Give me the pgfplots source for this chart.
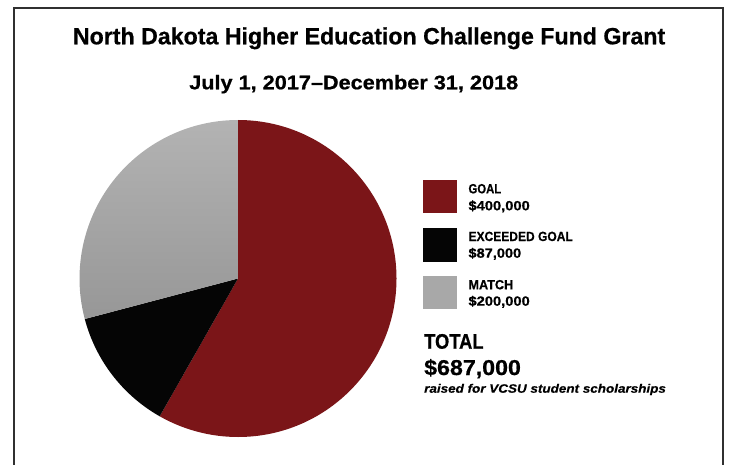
\documentclass[border=0pt]{standalone}
\usepackage{pgfplots}
\pgfplotsset{compat=1.18}
\usepackage{pgfplotstable}
\usepackage{graphicx}
\usepackage{fontspec}
\setmainfont{Liberation Sans}[
  BoldFeatures={FakeBold=0.7},
  BoldItalicFeatures={FakeBold=0.5}]

\definecolor{goalred}{HTML}{7B1518}
\definecolor{exceedblack}{HTML}{050505}
\definecolor{matchtop}{HTML}{B3B3B3}
\definecolor{matchbot}{HTML}{979797}
\definecolor{framec}{HTML}{303030}

% values in thousands of dollars
\pgfplotstableread{
label    value
Goal     400
Exceeded 87
Match    200
}\piedata

\newcommand{\txt}[4]{% x, y, width, height, text
  \node[anchor=base west, inner sep=0pt] at (axis cs:#1,#2) {#4};}

\begin{document}
\begin{tikzpicture}
  \pgfplotstablegetelem{0}{value}\of\piedata \let\vA\pgfplotsretval
  \pgfplotstablegetelem{1}{value}\of\piedata \let\vB\pgfplotsretval
  \pgfplotstablegetelem{2}{value}\of\piedata \let\vC\pgfplotsretval
  \pgfmathsetmacro{\tot}{\vA+\vB+\vC}
  \pgfmathsetmacro{\aO}{90}
  \pgfmathsetmacro{\aI}{\aO-360*(\vA/\tot)}
  \pgfmathsetmacro{\aII}{\aI-360*(\vB/\tot)}
  \pgfmathsetmacro{\aIII}{\aII-360*(\vC/\tot)}
  \def\cx{238}\def\cy{185.5}\def\rr{158.5}
  \begin{axis}[
    scale only axis,
    width=730pt, height=464pt,
    xmin=0, xmax=730, ymin=0, ymax=464,
    hide axis,
    clip=false,
  ]
    % frame
    \draw[line width=2.4pt, framec] (axis cs:14,-10) -- (axis cs:14,456)
      -- (axis cs:723,456) -- (axis cs:723,-10);

    % pie wedges
    \fill[goalred] (axis cs:\cx,\cy)
      -- (axis cs:{\cx+\rr*cos(\aO)},{\cy+\rr*sin(\aO)})
      arc[start angle=\aO, end angle=\aI, radius=\rr pt] -- cycle;
    \fill[exceedblack] (axis cs:\cx,\cy)
      -- (axis cs:{\cx+\rr*cos(\aI)},{\cy+\rr*sin(\aI)})
      arc[start angle=\aI, end angle=\aII, radius=\rr pt] -- cycle;
    \shade[top color=matchtop, bottom color=matchbot] (axis cs:\cx,\cy)
      -- (axis cs:{\cx+\rr*cos(\aII)},{\cy+\rr*sin(\aII)})
      arc[start angle=\aII, end angle=\aIII, radius=\rr pt] -- cycle;

    % titles
    \txt{72.7}{419.7}{}{\resizebox{592.3pt}{17pt}{\bfseries North Dakota Higher Education Challenge Fund Grant}}
    \txt{189}{374.7}{}{\resizebox{329pt}{14.3pt}{\bfseries July 1, 2017–December 31, 2018}}

    % legend
    \fill[goalred] (axis cs:423.3,250.7) rectangle (axis cs:456.7,284);
    \fill[exceedblack] (axis cs:423.3,202.3) rectangle (axis cs:456.7,235.7);
    \fill[matchtop!60!matchbot] (axis cs:423.3,154.7) rectangle (axis cs:456.7,188);

    \txt{468.3}{270.7}{}{\resizebox{32.7pt}{9.3pt}{\bfseries GOAL}}
    \txt{468.3}{253.7}{}{\resizebox{61.3pt}{9.3pt}{\bfseries\smash{\$}400,000}}
    \txt{468.3}{223}{}{\resizebox{104.3pt}{9.3pt}{\bfseries EXCEEDED GOAL}}
    \txt{468.3}{206.3}{}{\resizebox{52.7pt}{9.3pt}{\bfseries\smash{\$}87,000}}
    \txt{468.3}{174.7}{}{\resizebox{44.7pt}{9.3pt}{\bfseries MATCH}}
    \txt{468.3}{158.3}{}{\resizebox{61.3pt}{9.3pt}{\bfseries\smash{\$}200,000}}

    % total
    \txt{424}{115.3}{}{\resizebox{59.3pt}{14.7pt}{\bfseries TOTAL}}
    \txt{424}{89}{}{\resizebox{96.7pt}{15pt}{\bfseries\smash{\$}687,000}}
    \txt{424}{71.3}{}{\resizebox{241.7pt}{8.8pt}{\bfseries\itshape raised for VCSU student scholarships}}
  \end{axis}
  \pgfresetboundingbox
  \path[use as bounding box] (0,0) rectangle (730pt,464pt);
\end{tikzpicture}
\end{document}
